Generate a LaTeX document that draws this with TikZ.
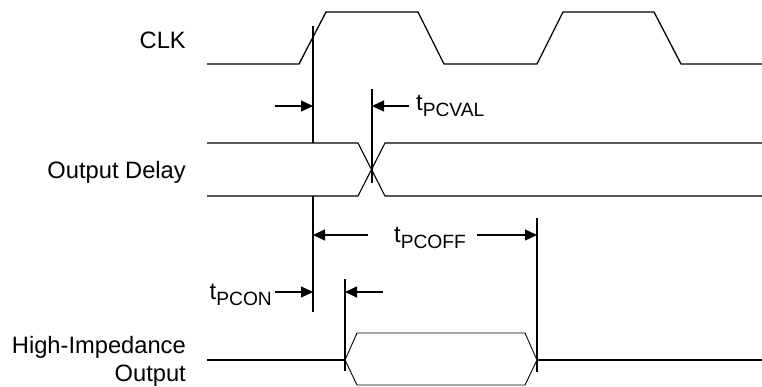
\documentclass[tikz,border=0pt]{standalone}
\usepackage{fontspec}
\setmainfont{Liberation Sans}
\usetikzlibrary{arrows.meta}
\newcommand{\tsub}[1]{t\raisebox{-0.28em}{\fontsize{19.2}{19.2}\selectfont #1}}
\tikzset{
  lbl/.style={inner sep=0pt, font=\fontsize{23.7}{28}\selectfont},
  wave/.style={line width=1.3pt, line join=miter},
  bus/.style={line width=1.1pt},
  hex/.style={line width=0.9pt},
  marker/.style={line width=1.7pt},
  dim/.style={line width=1.3pt, -{Triangle[length=12pt,width=11pt]}},
}
\begin{document}
\begin{tikzpicture}[x=1pt,y=-1pt]
\useasboundingbox (0,0) rectangle (762,386);
% labels
\node[lbl, anchor=east] (clk) at (186,40) {CLK};
\node[lbl, anchor=east] (od) at (186,172) {Output Delay};
\node[lbl, anchor=east, align=right] (hi) at (186,361) {High-Impedance\\Output};
% CLK waveform
\draw[wave] (207,64) -- (299,64) -- (326,12) -- (418,12) -- (444,64) -- (537,64) -- (563,12) -- (654,12) -- (681,64) -- (762,64);
% Output delay bus
\draw[bus] (207,143) -- (358,143) -- (385,196) -- (762,196);
\draw[bus] (207,196) -- (358,196) -- (385,143) -- (762,143);
% High impedance output
\draw[wave] (207,360) -- (345,360);
\draw[wave] (537,360) -- (762,360);
\draw[hex] (345,360) -- (357,333) -- (525,333) -- (537,360) -- (525,385) -- (357,385) -- cycle;
% marker lines
\coordinate (m1a) at (313,26);
\coordinate (m1b) at (313,143);
\coordinate (m1c) at (313,196);
\coordinate (m1d) at (313,312);
\draw[marker] (m1a) -- (m1b);
\draw[marker] (m1c) -- (m1d);
\coordinate (m2a) at (372,89);
\coordinate (m2b) at (372,183);
\draw[marker] (m2a) -- (m2b);
\coordinate (m3a) at (537,218);
\coordinate (m3b) at (537,372);
\draw[marker] (m3a) -- (m3b);
\coordinate (m4a) at (345,279);
\coordinate (m4b) at (345,371);
\draw[marker] (m4a) -- (m4b);
% tPCVAL
\coordinate (a1s) at (275,106);
\coordinate (a1e) at (313,106);
\draw[dim] (a1s) -- (a1e);
\node[lbl, anchor=west] (pcval) at (416,106) {\tsub{PCVAL}};
\coordinate (a2e) at (372,106);
\draw[dim] (pcval.west) ++(-7,0) coordinate (a2s) -- (a2e);
% tPCOFF
\node[lbl] (pcoff) at (430,238) {\tsub{PCOFF}};
\coordinate (a3e) at (313,235);
\coordinate (a4e) at (537,235);
\draw[dim] (368,235) coordinate (a3s) -- (a3e);
\draw[dim] (477,235) coordinate (a4s) -- (a4e);
% tPCON
\node[lbl, anchor=east] (pcon) at (272,295) {\tsub{PCON}};
\coordinate (a5e) at (313,292);
\draw[dim] (275,292) coordinate (a5s) -- (a5e);
\coordinate (a6e) at (345,292);
\draw[dim] (383,292) coordinate (a6s) -- (a6e);
\end{tikzpicture}
\end{document}
